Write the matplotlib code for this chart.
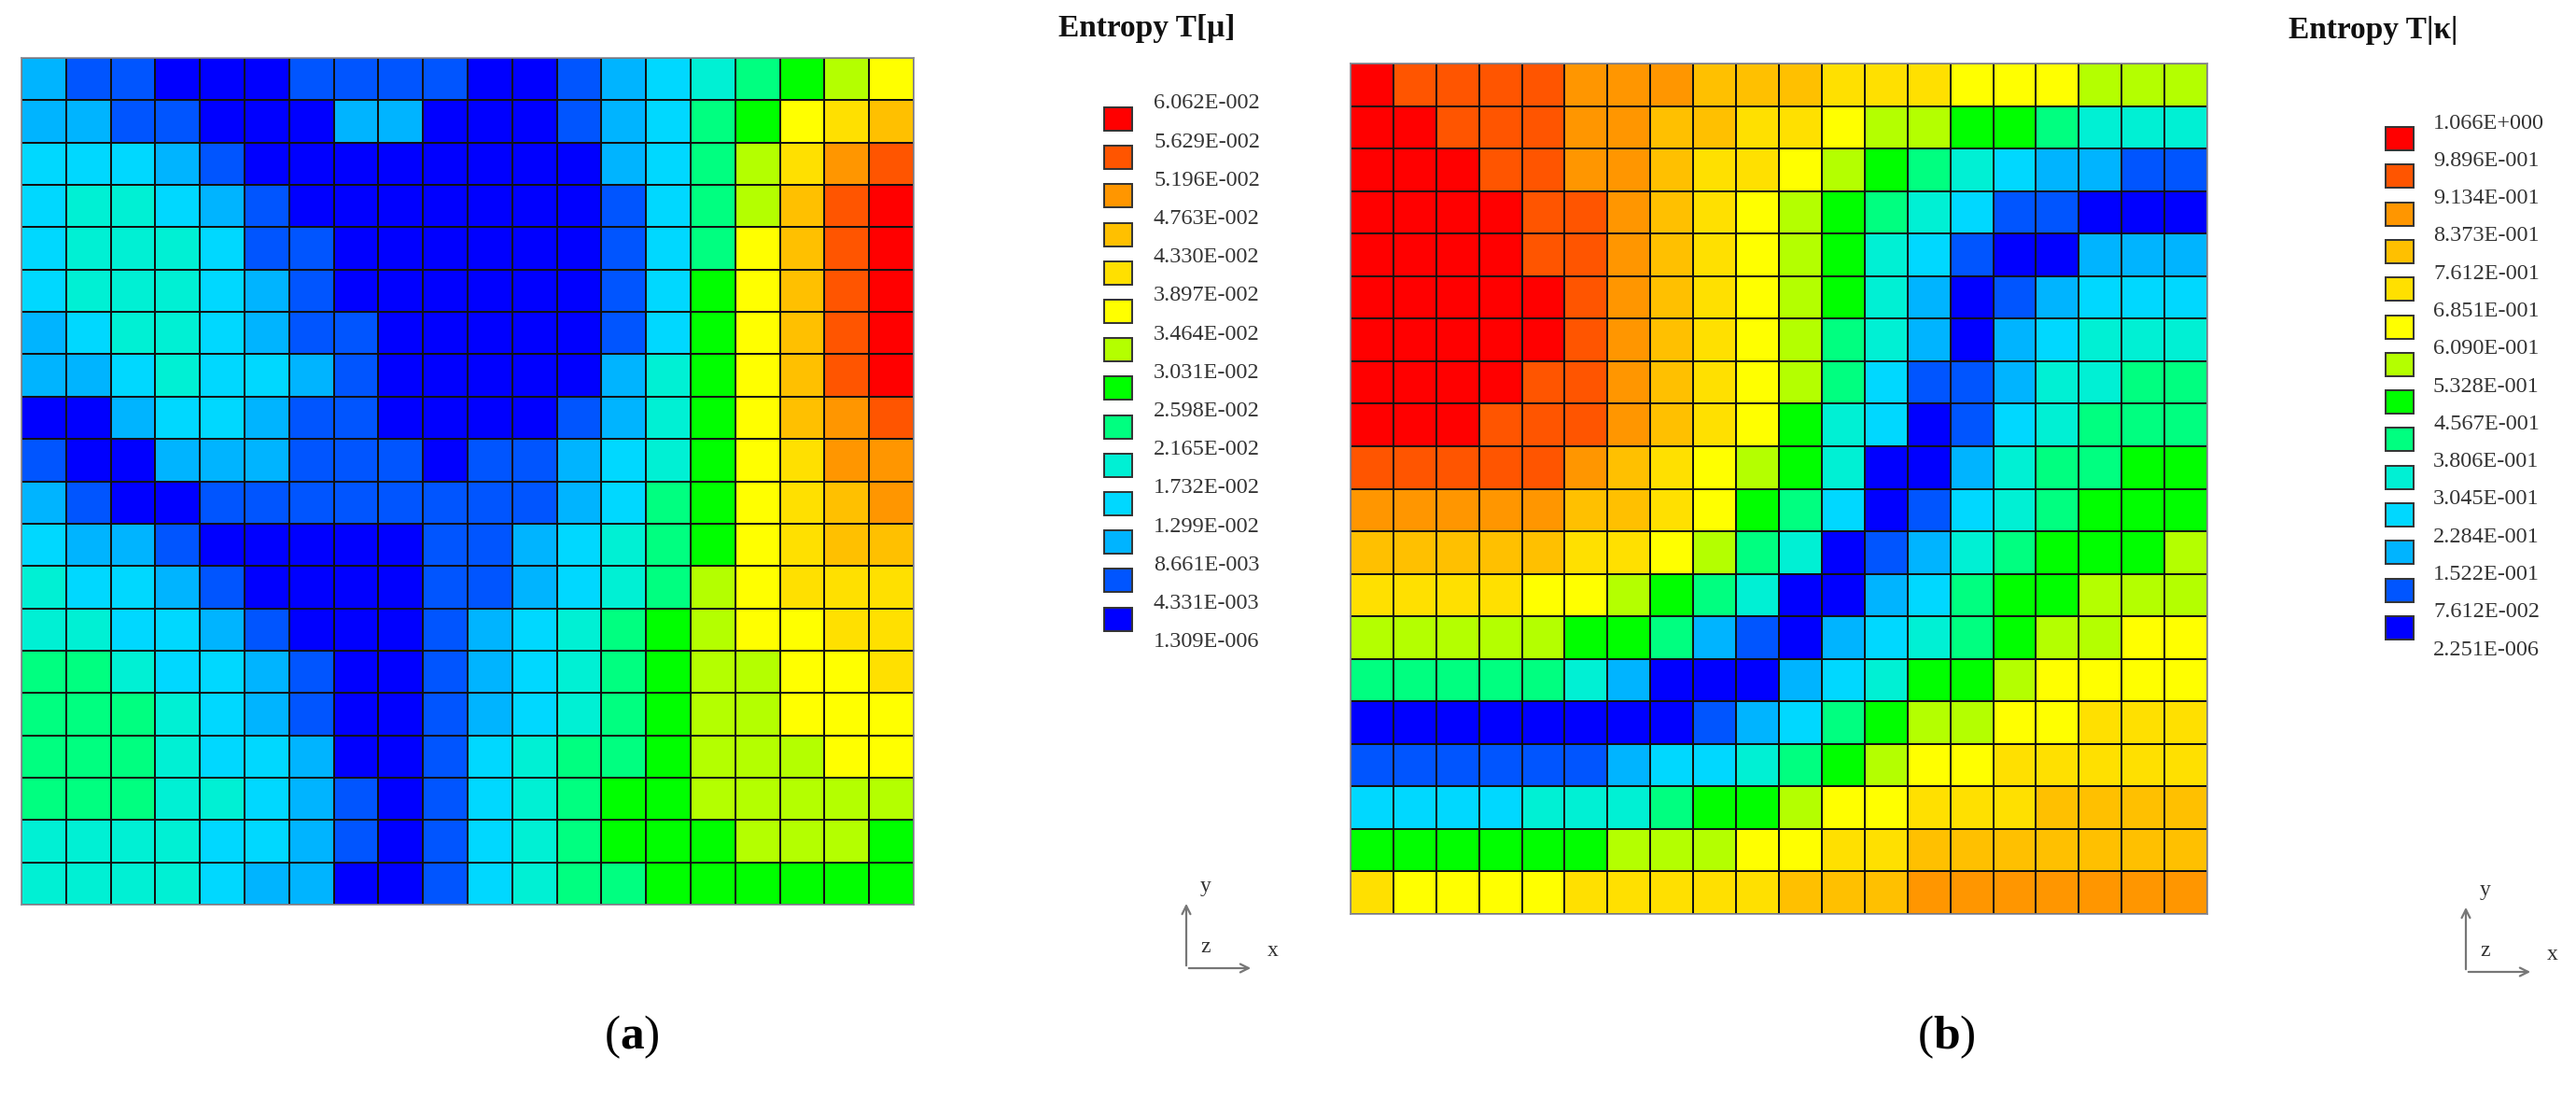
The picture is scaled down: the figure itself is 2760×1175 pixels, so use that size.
import numpy as np
import matplotlib
matplotlib.use('Agg')
import matplotlib.pyplot as plt
from matplotlib.colors import ListedColormap, BoundaryNorm
from matplotlib.patches import Rectangle

plt.rcParams['font.family'] = ['Liberation Serif', 'DejaVu Serif']
plt.rcParams['mathtext.fontset'] = 'custom'
plt.rcParams['mathtext.rm'] = 'Liberation Serif'
plt.rcParams['mathtext.bf'] = 'Liberation Serif:bold'

W, H = 2760, 1175

band_colors = ['#0000ff', '#0055ff', '#00b4ff', '#00d8ff', '#00f0d4', '#00ff80', '#00ff00',
               '#b4ff00', '#ffff00', '#ffe000', '#ffc000', '#ff9600', '#ff5500', '#ff0000']

labels_mu = ['6.062E-002', '5.629E-002', '5.196E-002', '4.763E-002', '4.330E-002',
             '3.897E-002', '3.464E-002', '3.031E-002', '2.598E-002', '2.165E-002',
             '1.732E-002', '1.299E-002', '8.661E-003', '4.331E-003', '1.309E-006']
labels_kappa = ['1.066E+000', '9.896E-001', '9.134E-001', '8.373E-001', '7.612E-001',
                '6.851E-001', '6.090E-001', '5.328E-001', '4.567E-001', '3.806E-001',
                '3.045E-001', '2.284E-001', '1.522E-001', '7.612E-002', '2.251E-006']

# band index of every cell, top row first (0 = blue ... 13 = red)
cells_mu = [
    [2,1,1,0,0,0,1,1,1,1,0,0,1,2,3,4,5,6,7,8],
    [2,2,1,1,0,0,0,2,2,0,0,0,1,2,3,5,6,8,9,10],
    [3,3,3,2,1,0,0,0,0,0,0,0,0,2,3,5,7,9,11,12],
    [3,4,4,3,2,1,0,0,0,0,0,0,0,1,3,5,7,10,12,13],
    [3,4,4,4,3,1,1,0,0,0,0,0,0,1,3,5,8,10,12,13],
    [3,4,4,4,3,2,1,0,0,0,0,0,0,1,3,6,8,10,12,13],
    [2,3,4,4,3,2,1,1,0,0,0,0,0,1,3,6,8,10,12,13],
    [2,2,3,4,3,3,2,1,0,0,0,0,0,2,4,6,8,10,12,13],
    [0,0,2,3,3,2,1,1,0,0,0,0,1,2,4,6,8,10,11,12],
    [1,0,0,2,2,2,1,1,1,0,1,1,2,3,4,6,8,9,11,11],
    [2,1,0,0,1,1,1,1,1,1,1,1,2,3,5,6,8,9,10,11],
    [3,2,2,1,0,0,0,0,0,1,1,2,3,4,5,6,8,9,10,10],
    [4,3,3,2,1,0,0,0,0,1,1,2,3,4,5,7,8,9,9,9],
    [4,4,3,3,2,1,0,0,0,1,2,3,4,5,6,7,8,8,9,9],
    [5,5,4,3,3,2,1,0,0,1,2,3,4,5,6,7,7,8,8,9],
    [5,5,5,4,3,2,1,0,0,1,2,3,4,5,6,7,7,8,8,8],
    [5,5,5,4,3,3,2,0,0,1,3,4,5,5,6,7,7,7,8,8],
    [5,5,5,4,4,3,2,1,0,1,3,4,5,6,6,7,7,7,7,7],
    [4,4,4,4,3,3,2,1,0,1,3,4,5,6,6,6,7,7,7,6],
    [4,4,4,4,3,2,2,0,0,1,3,4,5,5,6,6,6,6,6,6],
]
cells_kappa = [
    [13,12,12,12,12,11,11,11,10,10,10,9,9,9,8,8,8,7,7,7],
    [13,13,12,12,12,11,11,10,10,9,9,8,7,7,6,6,5,4,4,4],
    [13,13,13,12,12,11,11,10,9,9,8,7,6,5,4,3,2,2,1,1],
    [13,13,13,13,12,12,11,10,9,8,7,6,5,4,3,1,1,0,0,0],
    [13,13,13,13,12,12,11,10,9,8,7,6,4,3,1,0,0,2,2,2],
    [13,13,13,13,13,12,11,10,9,8,7,6,4,2,0,1,2,3,3,3],
    [13,13,13,13,13,12,11,10,9,8,7,5,4,2,0,2,3,4,4,4],
    [13,13,13,13,12,12,11,10,9,8,7,5,3,1,1,2,4,4,5,5],
    [13,13,13,12,12,12,11,10,9,8,6,4,3,0,1,3,4,5,5,5],
    [12,12,12,12,12,11,10,9,8,7,6,4,0,0,2,4,5,5,6,6],
    [11,11,11,11,11,10,10,9,8,6,5,3,0,1,3,4,5,6,6,6],
    [10,10,10,10,10,9,9,8,7,5,4,0,1,2,4,5,6,6,6,7],
    [9,9,9,9,8,8,7,6,5,4,0,0,2,3,5,6,6,7,7,7],
    [7,7,7,7,7,6,6,5,2,1,0,2,3,4,5,6,7,7,8,8],
    [5,5,5,5,5,4,2,0,0,0,2,3,4,6,6,7,8,8,8,8],
    [0,0,0,0,0,0,0,0,1,2,3,5,6,7,7,8,8,9,9,9],
    [1,1,1,1,1,1,2,3,3,4,5,6,7,8,8,9,9,9,9,9],
    [3,3,3,3,4,4,4,5,6,6,7,8,8,9,9,9,10,10,10,10],
    [6,6,6,6,6,6,7,7,7,8,8,9,9,10,10,10,10,10,10,10],
    [9,8,8,8,8,9,9,9,9,9,10,10,10,11,11,11,11,11,11,11],
]

cmap = ListedColormap(band_colors)
norm = BoundaryNorm(np.arange(-0.5, 14.5), cmap.N)

fig = plt.figure(figsize=(W / 100, H / 100), dpi=100)


def add_field(cells, box):
    # box is left, top, right, bottom in pixels
    l, t, r, b = box
    ax = fig.add_axes([l / W, 1 - b / H, (r - l) / W, (b - t) / H])
    data = np.array(cells)
    ax.pcolormesh(data, cmap=cmap, norm=norm, edgecolors='#111111', linewidth=1.1)
    ax.invert_yaxis()
    ax.set_xticks([])
    ax.set_yticks([])
    for s in ax.spines.values():
        s.set_color('#8c8c96')
        s.set_linewidth(1.2)


add_field(cells_mu, (23, 62, 979, 969))
add_field(cells_kappa, (1447, 68, 2365, 979))

# everything else sits on an overlay in pixel coordinates
ov = fig.add_axes([0, 0, 1, 1])
ov.set_xlim(0, W)
ov.set_ylim(H, 0)
ov.axis('off')
ov.patch.set_alpha(0)


def add_legend(title, labels, title_xy, swatch_x, text_x, first_y, step):
    ov.text(title_xy[0], title_xy[1], title, fontsize=24, fontweight='bold', ha='left', va='center',
            color='#111111')
    for i, lab in enumerate(labels):
        y = first_y + i * step
        ov.text(text_x, y, lab, fontsize=17.5, ha='left', va='center', color='#333333')
        if i < len(band_colors):
            ov.add_patch(Rectangle((swatch_x, y + 4), 30, 25, facecolor=band_colors[::-1][i],
                                   edgecolor='#333333', linewidth=1.4))


def add_triad(ox, oy, size):
    arrow = dict(arrowstyle='->', color='#777777', lw=1.6, mutation_scale=16)
    ov.annotate('', xy=(ox + size, oy), xytext=(ox, oy), arrowprops=arrow)
    ov.annotate('', xy=(ox, oy - size), xytext=(ox, oy), arrowprops=arrow)
    ov.text(ox + 21, oy - 88, 'y', fontsize=17, ha='center', va='center', color='#333333')
    ov.text(ox + 21, oy - 22, 'z', fontsize=17, ha='center', va='center', color='#333333')
    ov.text(ox + 93, oy - 18, 'x', fontsize=17, ha='center', va='center', color='#333333')


add_legend('Entropy T[μ]', labels_mu, (1134, 30), 1183, 1236, 111, 41.2)
add_legend('Entropy T|κ|', labels_kappa, (2452, 33), 2556, 2607, 132, 40.3)
add_triad(1271, 1037, 72)
add_triad(2642, 1041, 72)

ov.text(677, 1111, r'($\mathbf{a}$)', fontsize=37, ha='center', va='center', color='black')
ov.text(2085, 1111, r'($\mathbf{b}$)', fontsize=37, ha='center', va='center', color='black')

fig.savefig('out.png', dpi=100)
